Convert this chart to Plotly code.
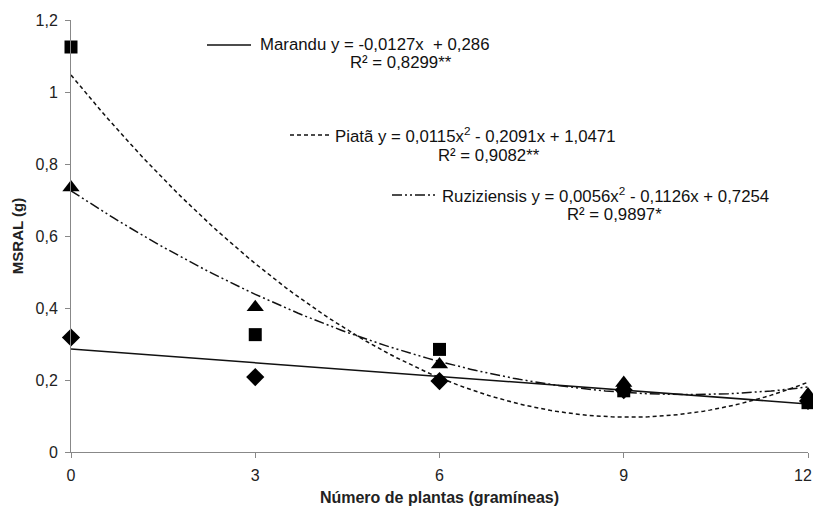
import numpy as np
import plotly.graph_objects as go

x_vals = [0, 3, 6, 9, 12]
marandu = [0.318, 0.208, 0.197, 0.172, 0.142]
piata = [1.125, 0.326, 0.285, 0.170, 0.137]
ruzi = [0.735, 0.402, 0.243, 0.192, 0.160]

# regression coefficients as printed (c2, c1, c0)
coef_marandu = [0.0, -0.0127, 0.286]
coef_piata = [0.0115, -0.2091, 1.0471]
coef_ruzi = [0.0056, -0.1126, 0.7254]

x_ticks = [0, 3, 6, 9, 12]
x_ticktext = ["0", "3", "6", "9", "12"]
y_ticks = [0, 0.2, 0.4, 0.6, 0.8, 1.0, 1.2]

xf = np.linspace(0, 12, 121)
def curve(c):
    return c[0] * xf ** 2 + c[1] * xf + c[2]

W, H = 813, 508
ML, MR, MT, MB = 71, 5, 20, 56
PW, PH = W - ML - MR, H - MT - MB

fig = go.Figure()
lc = "#111111"
dash_p = "4px,3px"
dash_r = "10px,3px,2px,3px,2px,3px"
fig.add_trace(go.Scatter(x=xf, y=curve(coef_marandu), mode="lines",
                         line=dict(color=lc, width=1.5), showlegend=False))
fig.add_trace(go.Scatter(x=xf, y=curve(coef_piata), mode="lines",
                         line=dict(color=lc, width=1.5, dash=dash_p), showlegend=False))
fig.add_trace(go.Scatter(x=xf, y=curve(coef_ruzi), mode="lines",
                         line=dict(color=lc, width=1.5, dash=dash_r), showlegend=False))

fig.add_trace(go.Scatter(x=x_vals, y=marandu, mode="markers",
                         marker=dict(symbol="diamond", size=14, color="black"), showlegend=False, cliponaxis=False))
fig.add_trace(go.Scatter(x=x_vals, y=piata, mode="markers",
                         marker=dict(symbol="square", size=13, color="black"), showlegend=False, cliponaxis=False))
fig.add_trace(go.Scatter(x=x_vals, y=ruzi, mode="markers",
                         marker=dict(symbol="triangle-up", size=15, color="black"), showlegend=False, cliponaxis=False))

font_ann = dict(family="Liberation Sans, Arial", size=16.8, color="#111")
anns = [
    (258, 45, "Marandu y = -0,0127x  + 0,286"),
    (348, 63, "R² = 0,8299**"),
    (333, 135, "Piatã y = 0,0115x<sup>2</sup> - 0,2091x + 1,0471"),
    (436, 155, "R² = 0,9082**"),
    (440, 195, "Ruziziensis y = 0,0056x<sup>2</sup> - 0,1126x + 0,7254"),
    (565, 214, "R² = 0,9897*"),
]
def px(xp):
    return (xp - ML) / PW
def py(yp):
    return 1 - (yp - MT) / PH

annotations = []
for ax_, ay_, t in anns:
    annotations.append(dict(x=px(ax_), y=py(ay_), xref="paper", yref="paper",
                            xanchor="left", yanchor="middle", text=t,
                            showarrow=False, font=font_ann))
# last x tick label, kept inside the page at the right edge
annotations.append(dict(x=px(813), y=py(475), xref="paper", yref="paper",
                        xanchor="right", yanchor="middle", text=x_ticktext[-1],
                        showarrow=False, font=dict(size=16, color="#222"),
                        xshift=0, borderpad=0))

shapes = [
    dict(type="line", xref="paper", yref="paper", x0=px(207), x1=px(251),
         y0=py(45), y1=py(45), line=dict(color=lc, width=1.5)),
    dict(type="line", xref="paper", yref="paper", x0=px(290), x1=px(330),
         y0=py(135), y1=py(135), line=dict(color=lc, width=1.5, dash=dash_p)),
    dict(type="line", xref="paper", yref="paper", x0=px(392), x1=px(436),
         y0=py(195), y1=py(195), line=dict(color=lc, width=1.5, dash=dash_r)),
]

fig.update_layout(
    width=W, height=H,
    margin=dict(l=ML, r=MR, t=MT, b=MB, pad=0),
    plot_bgcolor="white", paper_bgcolor="white",
    separators=",.",
    font=dict(family="Liberation Sans, Arial", size=16, color="#222"),
    annotations=annotations, shapes=shapes,
    xaxis=dict(range=[0, 12], tickvals=x_ticks, ticktext=x_ticktext[:-1] + [""],
               showgrid=False, zeroline=False,
               showline=True, linecolor="#888", linewidth=1, ticks="outside",
               ticklen=5, tickcolor="#888", automargin=False,
               ticklabelstandoff=4,
               title=dict(text="<b>Número de plantas (gramíneas)</b>", font=dict(size=16), standoff=8)),
    yaxis=dict(range=[0, 1.2], tickvals=y_ticks, showgrid=False, zeroline=False,
               showline=True, linecolor="#888", linewidth=1, ticks="outside",
               ticklen=5, tickcolor="#888", automargin=False, ticklabelstandoff=4,
               title=dict(text="<b>MSRAL (g)</b>", font=dict(size=15), standoff=8)),
)

fig.write_html("out.html", config={"displayModeBar": False},
               post_script="document.body.style.margin='0';document.body.style.overflow='hidden';")
